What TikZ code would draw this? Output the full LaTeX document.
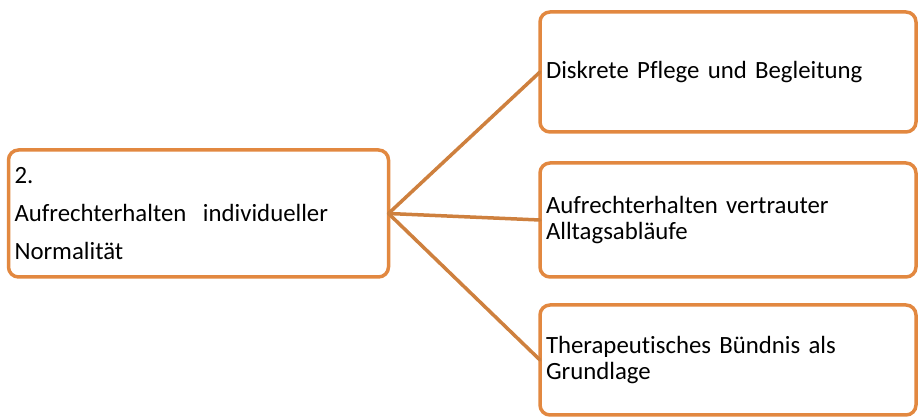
\documentclass[tikz,border=0pt]{standalone}
\usepackage{fontspec}
\setmainfont[Ligatures=NoCommon]{Carlito}
\definecolor{boxorange}{RGB}{226,136,64}
\definecolor{linkorange}{RGB}{206,128,62}
\begin{document}
\begin{tikzpicture}[x=1pt,y=1pt,
  topic/.style={draw=boxorange, line width=3.5pt, rounded corners=10pt,
    fill=white, inner xsep=6pt, inner ysep=0pt, outer sep=0pt,
    align=left, anchor=center, text=black},
  leaf/.style={topic, text width=364pt, minimum height=#1,
    font=\fontsize{24.8}{26.5}\selectfont},
  link/.style={draw=linkorange, line width=3.5pt, line cap=round}]
  \useasboundingbox (0,0) rectangle (918,417);

  % main topic on the left
  \node[topic, text width=368pt, minimum height=127pt,
        font=\fontsize{24.8}{38}\selectfont] (main) at (198.5,203.5)
    {2.\\Aufrechterhalten\ \ individueller\\Normalität};

  % three sub-topics on the right
  \node[leaf=120pt] (care)    at (728,345) {Diskrete Pflege und Begleitung};
  \node[leaf=114pt] (routine) at (728,197) {Aufrechterhalten vertrauter\\Alltagsabläufe};
  \node[leaf=110pt] (bond)    at (728,57)  {Therapeutisches Bündnis als\\Grundlage};

  % connectors from the main topic
  \coordinate (hub) at (main.east);
  \draw[link] (hub) -- (care.west);
  \draw[link] (hub) -- (routine.west);
  \draw[link] (hub) -- (bond.west);
\end{tikzpicture}
\end{document}
